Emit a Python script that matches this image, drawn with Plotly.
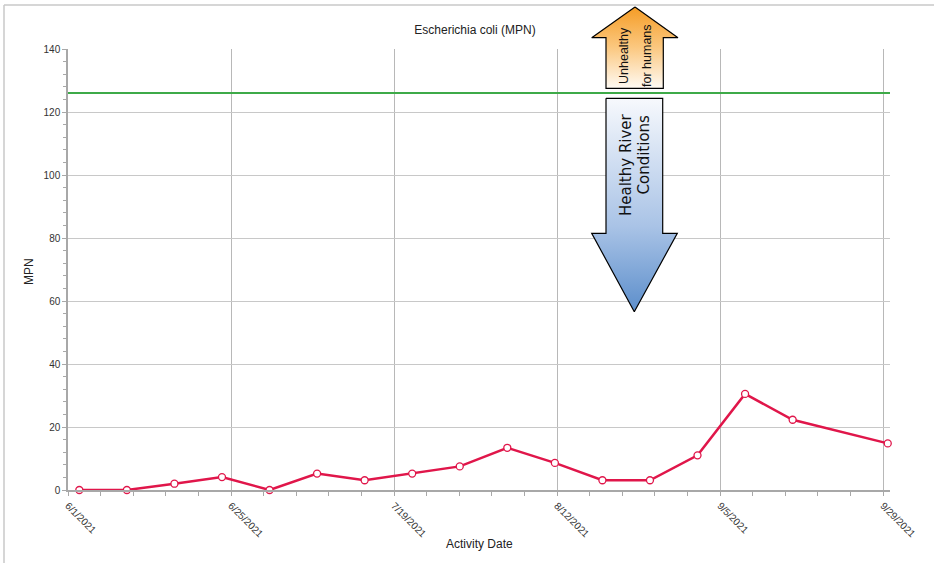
import plotly.graph_objects as go

# ---------------- data ----------------
sample_dates = ["2021-06-02", "2021-06-09", "2021-06-16", "2021-06-23", "2021-06-30",
                "2021-07-07", "2021-07-14", "2021-07-21", "2021-07-28", "2021-08-04",
                "2021-08-11", "2021-08-18", "2021-08-25", "2021-09-01", "2021-09-08",
                "2021-09-15", "2021-09-29"]
sample_time = "16:00"
mpn_values = [0, 0, 2.0, 4.1, 0, 5.2, 3.1, 5.2, 7.5, 13.4, 8.6, 3.1, 3.1, 11.0, 30.5, 22.3, 14.8]
threshold = 126

x_tick_vals = ["2021-06-01", "2021-06-25", "2021-07-19", "2021-08-12", "2021-09-05", "2021-09-29"]
x_tick_text = ["6/1/2021", "6/25/2021", "7/19/2021", "8/12/2021", "9/5/2021", "9/29/2021"]
y_tick_vals = [0, 20, 40, 60, 80, 100, 120, 140]

title_text = "Escherichia coli (MPN)"
x_title = "Activity Date"
y_title = "MPN"
up_text = ["Unhealthy", "for humans"]
down_text = ["Healthy River", "Conditions"]

# ---------------- layout constants ----------------
W, H = 934, 563
PLOT_L, PLOT_R, PLOT_T, PLOT_B = 68, 890, 49, 490
FONT = "Liberation Sans, Arial, sans-serif"
NARROW = "Liberation Sans, Arial, sans-serif"
VERD = "DejaVu Sans, Verdana, sans-serif"
DAY_MS = 86400000

x_vals = [d + " " + sample_time for d in sample_dates]

fig = go.Figure()

fig.add_trace(go.Scatter(
    x=x_vals, y=mpn_values, mode="lines+markers",
    line=dict(color="#e0164a", width=2.5),
    marker=dict(size=7, color="white", line=dict(color="#e0164a", width=1.3)),
    cliponaxis=False, showlegend=False, hoverinfo="x+y",
    xaxis="x", yaxis="y"))

# Arrow decorations drawn on a pixel-coordinate overlay subplot
up_arrow = dict(x=[635, 678, 663.3, 663.3, 606, 606, 591.7, 635],
                y=[7, 37.7, 37.7, 88.3, 88.3, 37.7, 37.7, 7])
down_arrow = dict(x=[606, 662.7, 662.7, 677.3, 634.3, 591.7, 606, 606],
                  y=[98.3, 98.3, 233.3, 233.3, 311.7, 233.3, 233.3, 98.3])

fig.add_trace(go.Scatter(
    x=up_arrow["x"], y=up_arrow["y"], mode="lines", fill="toself",
    line=dict(color="black", width=1.2),
    fillgradient=dict(type="vertical", start=7, stop=88,
                      colorscale=[[0, "#f59c25"], [0.5, "#fbc880"], [1, "#fffaf3"]]),
    xaxis="x2", yaxis="y2", showlegend=False, hoverinfo="skip"))
fig.add_trace(go.Scatter(
    x=down_arrow["x"], y=down_arrow["y"], mode="lines", fill="toself",
    line=dict(color="black", width=1.2),
    fillgradient=dict(type="vertical", start=98, stop=312,
                      colorscale=[[0, "#f7f9fd"], [0.6, "#a9c3e6"], [1, "#5c8ecb"]]),
    xaxis="x2", yaxis="y2", showlegend=False, hoverinfo="skip"))

annotations = [
    dict(text=up_text[0], x=624, y=56, textangle=-90, font=dict(family=NARROW, size=12.5, color="#111")),
    dict(text=up_text[1], x=647, y=56, textangle=-90, font=dict(family=NARROW, size=12.5, color="#111")),
    dict(text=down_text[0], x=626, y=165, textangle=-90, font=dict(family=VERD, size=15, color="#111")),
    dict(text=down_text[1], x=643.5, y=155, textangle=-90, font=dict(family=VERD, size=15, color="#111")),
    dict(text=x_title, x=479, y=544, font=dict(family=FONT, size=12, color="#222")),
    dict(text=y_title, x=29, y=272, textangle=-90, font=dict(family=FONT, size=12, color="#222")),
]
for a in annotations:
    a.update(xref="x2", yref="y2", showarrow=False, xanchor="center", yanchor="middle")

shapes = [
    dict(type="line", xref="x domain", yref="y", x0=0, x1=1, y0=threshold, y1=threshold,
         line=dict(color="#3eaa48", width=2)),
    dict(type="line", xref="paper", yref="paper", x0=4 / W, x1=1, y0=1 - 5 / H, y1=1 - 5 / H,
         line=dict(color="#c8c8c8", width=1.5)),
    dict(type="line", xref="paper", yref="paper", x0=4 / W, x1=4 / W, y0=0, y1=1 - 5 / H,
         line=dict(color="#c8c8c8", width=1.5)),
]

fig.update_layout(
    width=W, height=H,
    margin=dict(l=0, r=0, t=0, b=0),
    paper_bgcolor="white", plot_bgcolor="rgba(0,0,0,0)",
    font=dict(family=FONT, size=10, color="#333"),
    title=dict(text=title_text, x=475 / W, y=1 - 30 / H, xanchor="center", yanchor="middle",
               xref="paper", yref="paper", font=dict(family=FONT, size=12, color="#222")),
    xaxis=dict(domain=[PLOT_L / W, PLOT_R / W], anchor="y", type="date",
               range=["2021-06-01", "2021-09-30"],
               tickmode="array", tickvals=x_tick_vals, ticktext=x_tick_text,
               tickangle=45, tickfont=dict(size=10, color="#333"),
               showgrid=True, gridcolor="#b8b8b8", gridwidth=1,
               showline=True, linecolor="#a8a8a8", linewidth=2,
               ticks="outside", ticklen=4, tickcolor="#a8a8a8",
               minor=dict(tickmode="linear", tick0="2021-06-01", dtick=4.8 * DAY_MS,
                          ticks="outside", ticklen=4, tickcolor="#a8a8a8", showgrid=False),
               zeroline=False, automargin=False, fixedrange=True),
    yaxis=dict(domain=[1 - PLOT_B / H, 1 - PLOT_T / H], anchor="x",
               range=[0, 140], tickmode="array", tickvals=y_tick_vals,
               tickfont=dict(size=10, color="#333"),
               showgrid=True, gridcolor="#c8c8c8", gridwidth=1,
               showline=True, linecolor="#a8a8a8", linewidth=1.5,
               ticks="outside", ticklen=4, tickcolor="#a8a8a8",
               minor=dict(tickmode="linear", tick0=0, dtick=4,
                          ticks="outside", ticklen=3, tickcolor="#a8a8a8", showgrid=False),
               zeroline=False, automargin=False, fixedrange=True),
    xaxis2=dict(domain=[0, 1], anchor="y2", range=[0, W], visible=False, fixedrange=True),
    yaxis2=dict(domain=[0, 1], anchor="x2", range=[H, 0], visible=False, fixedrange=True),
    annotations=annotations,
    shapes=shapes,
)

fig.write_html("out.html", config={"displayModeBar": False},
               post_script="document.body.style.margin='0';document.body.style.padding='0';")
